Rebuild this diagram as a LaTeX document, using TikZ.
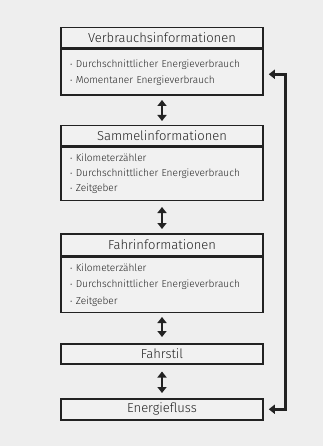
\documentclass[tikz,border=0pt]{standalone}
\usepackage{fontspec}
\setmainfont{Fira Sans Light}
\usetikzlibrary{positioning, arrows.meta}
\definecolor{bgray}{HTML}{EEEEEE}
\definecolor{boxgray}{HTML}{F1F1F1}
\definecolor{ink}{HTML}{222222}
\tikzset{
  head/.style={draw=ink, line width=1.5pt, fill=boxgray, minimum width=202pt,
    inner sep=0pt, font=\fontsize{13}{15}\selectfont, text=ink},
  body/.style={draw=ink, line width=1.5pt, fill=boxgray, minimum width=202pt,
    text width=184pt, align=left, inner sep=0pt, font=\fontsize{10.1}{16}\selectfont, text=ink},
  link/.style={<->, line width=2.4pt, draw=ink},
  fb/.style={<->, line width=3pt, draw=ink}
}
\newcommand{\itm}{{\fontsize{8}{8}\selectfont\textbullet}\hspace{3.5pt}}
\begin{document}
\begin{tikzpicture}[x=1pt, y=-1pt, >={Triangle[width=9pt,length=6pt]}]
  \useasboundingbox[fill=bgray] (0,0) rectangle (323,446);
  % blocks
  \node[head, minimum height=20pt, anchor=north] (verb) at (162,27) {Verbrauchsinformationen};
  \node[body, minimum height=46pt, below=0pt of verb] (verbL) {%
    \itm Durchschnittlicher Energieverbrauch\\
    \itm Momentaner Energieverbrauch};
  \node[head, minimum height=20pt, anchor=north] (samm) at (162,125) {Sammelinformationen};
  \node[body, minimum height=53pt, below=0pt of samm, font=\fontsize{10.1}{15}\selectfont] (sammL) {%
    \itm Kilometerzähler\\
    \itm Durchschnittlicher Energieverbrauch\\
    \itm Zeitgeber};
  \node[head, minimum height=22pt, anchor=north] (fahr) at (162,233) {Fahrinformationen};
  \node[body, minimum height=55pt, below=0pt of fahr, font=\fontsize{10.1}{16.5}\selectfont] (fahrL) {%
    \itm Kilometerzähler\\
    \itm Durchschnittlicher Energieverbrauch\\
    \itm Zeitgeber};
  \node[head, minimum height=20pt, anchor=north] (stil) at (162,343) {Fahrstil};
  \node[head, minimum height=21pt, anchor=north] (flow) at (162,398) {Energiefluss};
  % arrows between blocks
  \draw[link] ([yshift=-4pt]verbL.south) -- ([yshift=4pt]samm.north);
  \draw[link] ([yshift=-6pt]sammL.south) -- ([yshift=4pt]fahr.north);
  \draw[link] ([yshift=-4pt]fahrL.south) -- ([yshift=6pt]stil.north);
  \draw[link] ([yshift=-7pt]stil.south) -- ([yshift=5pt]flow.north);
  % feedback loop
  \draw[fb] ([xshift=5pt,yshift=-2pt]verbL.east) -- ++(17,0) |- ([xshift=5pt]flow.east);
\end{tikzpicture}
\end{document}
